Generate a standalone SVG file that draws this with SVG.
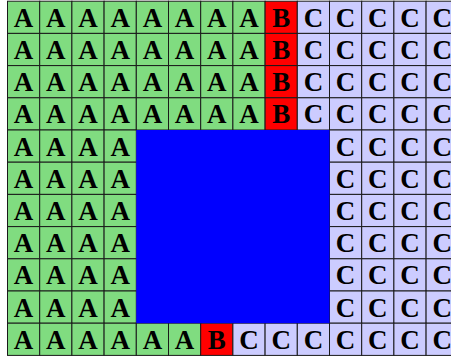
<svg xmlns="http://www.w3.org/2000/svg" width="451" height="358" viewBox="0 0 451 358">
<style>
rect.a{fill:#80dc80;stroke:#1a1a1a;stroke-width:1}
rect.b{fill:#ff0000;stroke:#1a1a1a;stroke-width:1}
rect.c{fill:#ccccff;stroke:#1a1a1a;stroke-width:1}
rect.k{fill:#0000ff;stroke:none}
text{font-family:"Liberation Serif","Times New Roman",serif;font-weight:bold;font-size:27px;text-anchor:middle;fill:#000}
</style>
<rect width="451" height="358" fill="#fff"/>
<defs>
<g id="A"><rect class="a" x="0" y="0" width="32.2" height="32.2"/><text x="16.1" y="25.6">A</text></g>
<g id="B"><rect class="b" x="0" y="0" width="32.2" height="32.2"/><text x="16.1" y="25.6">B</text></g>
<g id="C"><rect class="c" x="0" y="0" width="32.2" height="32.2"/><text x="16.1" y="25.6">C</text></g>
</defs>
<g id="grid">
<g id="row0">
<use href="#A" x="7.5" y="1.2"/><use href="#A" x="39.7" y="1.2"/><use href="#A" x="71.9" y="1.2"/><use href="#A" x="104.1" y="1.2"/><use href="#A" x="136.3" y="1.2"/><use href="#A" x="168.5" y="1.2"/><use href="#A" x="200.7" y="1.2"/><use href="#A" x="232.9" y="1.2"/><use href="#B" x="265.1" y="1.2"/><use href="#C" x="297.3" y="1.2"/><use href="#C" x="329.5" y="1.2"/><use href="#C" x="361.7" y="1.2"/><use href="#C" x="393.9" y="1.2"/><use href="#C" x="426.1" y="1.2"/>
</g>
<g id="row1">
<use href="#A" x="7.5" y="33.4"/><use href="#A" x="39.7" y="33.4"/><use href="#A" x="71.9" y="33.4"/><use href="#A" x="104.1" y="33.4"/><use href="#A" x="136.3" y="33.4"/><use href="#A" x="168.5" y="33.4"/><use href="#A" x="200.7" y="33.4"/><use href="#A" x="232.9" y="33.4"/><use href="#B" x="265.1" y="33.4"/><use href="#C" x="297.3" y="33.4"/><use href="#C" x="329.5" y="33.4"/><use href="#C" x="361.7" y="33.4"/><use href="#C" x="393.9" y="33.4"/><use href="#C" x="426.1" y="33.4"/>
</g>
<g id="row2">
<use href="#A" x="7.5" y="65.6"/><use href="#A" x="39.7" y="65.6"/><use href="#A" x="71.9" y="65.6"/><use href="#A" x="104.1" y="65.6"/><use href="#A" x="136.3" y="65.6"/><use href="#A" x="168.5" y="65.6"/><use href="#A" x="200.7" y="65.6"/><use href="#A" x="232.9" y="65.6"/><use href="#B" x="265.1" y="65.6"/><use href="#C" x="297.3" y="65.6"/><use href="#C" x="329.5" y="65.6"/><use href="#C" x="361.7" y="65.6"/><use href="#C" x="393.9" y="65.6"/><use href="#C" x="426.1" y="65.6"/>
</g>
<g id="row3">
<use href="#A" x="7.5" y="97.8"/><use href="#A" x="39.7" y="97.8"/><use href="#A" x="71.9" y="97.8"/><use href="#A" x="104.1" y="97.8"/><use href="#A" x="136.3" y="97.8"/><use href="#A" x="168.5" y="97.8"/><use href="#A" x="200.7" y="97.8"/><use href="#A" x="232.9" y="97.8"/><use href="#B" x="265.1" y="97.8"/><use href="#C" x="297.3" y="97.8"/><use href="#C" x="329.5" y="97.8"/><use href="#C" x="361.7" y="97.8"/><use href="#C" x="393.9" y="97.8"/><use href="#C" x="426.1" y="97.8"/>
</g>
<g id="row4">
<use href="#A" x="7.5" y="130"/><use href="#A" x="39.7" y="130"/><use href="#A" x="71.9" y="130"/><use href="#A" x="104.1" y="130"/><use href="#C" x="329.5" y="130"/><use href="#C" x="361.7" y="130"/><use href="#C" x="393.9" y="130"/><use href="#C" x="426.1" y="130"/>
</g>
<g id="row5">
<use href="#A" x="7.5" y="162.2"/><use href="#A" x="39.7" y="162.2"/><use href="#A" x="71.9" y="162.2"/><use href="#A" x="104.1" y="162.2"/><use href="#C" x="329.5" y="162.2"/><use href="#C" x="361.7" y="162.2"/><use href="#C" x="393.9" y="162.2"/><use href="#C" x="426.1" y="162.2"/>
</g>
<g id="row6">
<use href="#A" x="7.5" y="194.4"/><use href="#A" x="39.7" y="194.4"/><use href="#A" x="71.9" y="194.4"/><use href="#A" x="104.1" y="194.4"/><use href="#C" x="329.5" y="194.4"/><use href="#C" x="361.7" y="194.4"/><use href="#C" x="393.9" y="194.4"/><use href="#C" x="426.1" y="194.4"/>
</g>
<g id="row7">
<use href="#A" x="7.5" y="226.6"/><use href="#A" x="39.7" y="226.6"/><use href="#A" x="71.9" y="226.6"/><use href="#A" x="104.1" y="226.6"/><use href="#C" x="329.5" y="226.6"/><use href="#C" x="361.7" y="226.6"/><use href="#C" x="393.9" y="226.6"/><use href="#C" x="426.1" y="226.6"/>
</g>
<g id="row8">
<use href="#A" x="7.5" y="258.8"/><use href="#A" x="39.7" y="258.8"/><use href="#A" x="71.9" y="258.8"/><use href="#A" x="104.1" y="258.8"/><use href="#C" x="329.5" y="258.8"/><use href="#C" x="361.7" y="258.8"/><use href="#C" x="393.9" y="258.8"/><use href="#C" x="426.1" y="258.8"/>
</g>
<g id="row9">
<use href="#A" x="7.5" y="291"/><use href="#A" x="39.7" y="291"/><use href="#A" x="71.9" y="291"/><use href="#A" x="104.1" y="291"/><use href="#C" x="329.5" y="291"/><use href="#C" x="361.7" y="291"/><use href="#C" x="393.9" y="291"/><use href="#C" x="426.1" y="291"/>
</g>
<g id="row10">
<use href="#A" x="7.5" y="323.2"/><use href="#A" x="39.7" y="323.2"/><use href="#A" x="71.9" y="323.2"/><use href="#A" x="104.1" y="323.2"/><use href="#A" x="136.3" y="323.2"/><use href="#A" x="168.5" y="323.2"/><use href="#B" x="200.7" y="323.2"/><use href="#C" x="232.9" y="323.2"/><use href="#C" x="265.1" y="323.2"/><use href="#C" x="297.3" y="323.2"/><use href="#C" x="329.5" y="323.2"/><use href="#C" x="361.7" y="323.2"/><use href="#C" x="393.9" y="323.2"/><use href="#C" x="426.1" y="323.2"/>
</g>
</g>
<g id="hole">
<rect class="k" x="136.3" y="130" width="193.2" height="193.2"/>
</g>
</svg>
